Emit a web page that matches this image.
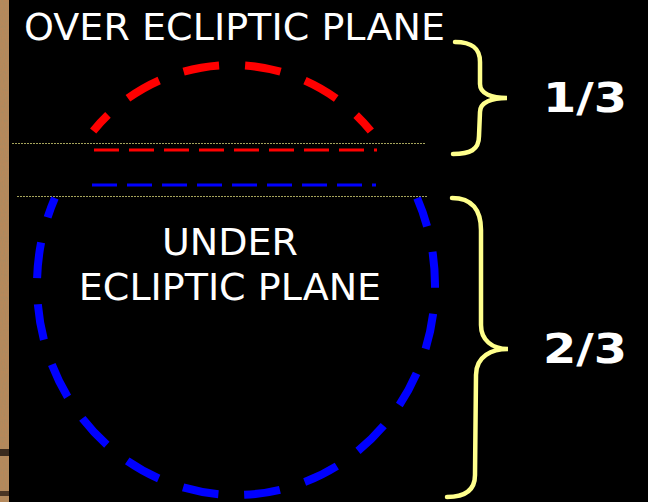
<!DOCTYPE html>
<html>
<head>
<meta charset="utf-8">
<script src="https://cdn.jsdelivr.net/npm/d3@7"></script>
<style>
  html, body { margin: 0; padding: 0; background: #000; }
  svg { display: block; }
</style>
</head>
<body>
<div id="chart"></div>
<script>
// text content of the slide
const titles = ["OVER ECLIPTIC PLANE"];
const underLines = ["UNDER", "ECLIPTIC PLANE"];
const fractions = ["1/3", "2/3"];
const shares = [1, 2];

const width = 648;
const height = 502;

const svg = d3
  .select("#chart")
  .append("svg")
  .attr("width", width)
  .attr("height", height);

svg.append("rect").attr("width", width).attr("height", height).attr("fill", "#000");

// wooden frame strip on the left
const defs = svg.append("defs");
const grain = defs.append("filter").attr("id", "grain");
grain
  .append("feTurbulence")
  .attr("type", "fractalNoise")
  .attr("baseFrequency", "0.9 0.35")
  .attr("numOctaves", 2)
  .attr("seed", 4)
  .attr("result", "n");
grain
  .append("feColorMatrix")
  .attr("in", "n")
  .attr("type", "matrix")
  .attr("values", "0 0 0 0 0.4  0 0 0 0 0.26  0 0 0 0 0.12  0 0 0 1.6 -0.5")
  .attr("result", "c");
grain.append("feComposite").attr("in", "c").attr("in2", "SourceGraphic").attr("operator", "in");

svg.append("rect").attr("x", 0).attr("y", 0).attr("width", 9).attr("height", height).attr("fill", "#b8885a");
svg.append("rect").attr("x", 0).attr("y", 0).attr("width", 9).attr("height", height).attr("fill", "#b8885a").attr("filter", "url(#grain)");
svg.append("rect").attr("x", 0).attr("y", 449).attr("width", 9).attr("height", 7).attr("fill", "#3a2a1e");
svg.append("rect").attr("x", 0).attr("y", 491).attr("width", 9).attr("height", 5).attr("fill", "#4a3524");

// thin reference lines (plane limits)
const planeLines = [
  { y: 143.5, x1: 12, x2: 425 },
  { y: 196.5, x1: 17, x2: 427 },
];
svg
  .append("g")
  .selectAll("line")
  .data(planeLines)
  .join("line")
  .attr("x1", (d) => d.x1)
  .attr("x2", (d) => d.x2)
  .attr("y1", (d) => d.y)
  .attr("y2", (d) => d.y)
  .attr("stroke", "#a6a45c")
  .attr("stroke-width", 1)
  .attr("stroke-dasharray", "2,1");

// red arc over the plane
const red = { cx: 232, cy: 244, r: 179, cut: 131 };
const rdx = Math.sqrt(red.r * red.r - (red.cy - red.cut) ** 2);
const redArc = svg
  .append("path")
  .attr(
    "d",
    `M${red.cx - rdx},${red.cut} A${red.r},${red.r} 0 0 1 ${red.cx + rdx},${red.cut}`
  )
  .attr("fill", "none")
  .attr("stroke", "#ff0000")
  .attr("stroke-width", 8)
  .attr("stroke-dasharray", "36,26");
const redLen = redArc.node().getTotalLength();
redArc.attr("stroke-dashoffset", 49 - redLen / 2);

// dashed plane lines
const dashLines = [
  { y: 150, x1: 94, x2: 377, color: "#ff0000" },
  { y: 185, x1: 92, x2: 376, color: "#0000ff" },
];
svg
  .append("g")
  .selectAll("line")
  .data(dashLines)
  .join("line")
  .attr("x1", (d) => d.x1)
  .attr("x2", (d) => d.x2)
  .attr("y1", (d) => d.y)
  .attr("y2", (d) => d.y)
  .attr("stroke", (d) => d.color)
  .attr("stroke-width", 3)
  .attr("stroke-dasharray", "25,10");

// blue arc under the plane
const blue = { cx: 236, cy: 285, rx: 199, ry: 210, cut: 198 };
const bdx = blue.rx * Math.sqrt(1 - ((blue.cy - blue.cut) / blue.ry) ** 2);
const blueArc = svg
  .append("path")
  .attr(
    "d",
    `M${blue.cx - bdx},${blue.cut} A${blue.rx},${blue.ry} 0 1 0 ${blue.cx + bdx},${blue.cut}`
  )
  .attr("fill", "none")
  .attr("stroke", "#0000ff")
  .attr("stroke-width", 8)
  .attr("stroke-dasharray", "36,26");
const blueLen = blueArc.node().getTotalLength();
blueArc.attr("stroke-dashoffset", -8 - blueLen / 2);

// labels
svg
  .append("text")
  .attr("x", 24)
  .attr("y", 40)
  .attr("fill", "#fff")
  .style("font-family", "'DejaVu Sans', Verdana, sans-serif")
  .style("font-size", "38px")
  .attr("textLength", 421)
  .text(titles[0]);

svg
  .append("g")
  .selectAll("text")
  .data(underLines)
  .join("text")
  .attr("x", 230)
  .attr("y", (d, i) => 255 + i * 45)
  .attr("text-anchor", "middle")
  .attr("fill", "#fff")
  .style("font-family", "'DejaVu Sans', Verdana, sans-serif")
  .style("font-size", "38px")
  .text((d) => d);

// braces
const braces = [
  "M455,42 C472,42 480,48 480,62 L480,84 C480,94 492,98 507,98 C492,98 480,102 480,112 L479,136 C479,150 470,154 453,154",
  "M452,198 C472,198 481,210 481,230 L481,325 C481,340 492,349 508,349 C492,349 476,356 476,375 L475,475 C475,490 465,497 447,497",
];
svg
  .append("g")
  .selectAll("path")
  .data(braces)
  .join("path")
  .attr("d", (d) => d)
  .attr("fill", "none")
  .attr("stroke", "#ffff8c")
  .attr("stroke-width", 4.5)
  .attr("stroke-linecap", "round");

const fracY = [112, 363];
svg
  .append("g")
  .selectAll("text")
  .data(fractions)
  .join("text")
  .attr("x", 543)
  .attr("y", (d, i) => fracY[i])
  .attr("fill", "#fff")
  .style("font-family", "'DejaVu Sans', Verdana, sans-serif")
  .style("font-weight", "bold")
  .style("font-size", "41px")
  .attr("textLength", 84)
  .attr("lengthAdjust", "spacingAndGlyphs")
  .text((d) => d);
</script>
</body>
</html>
